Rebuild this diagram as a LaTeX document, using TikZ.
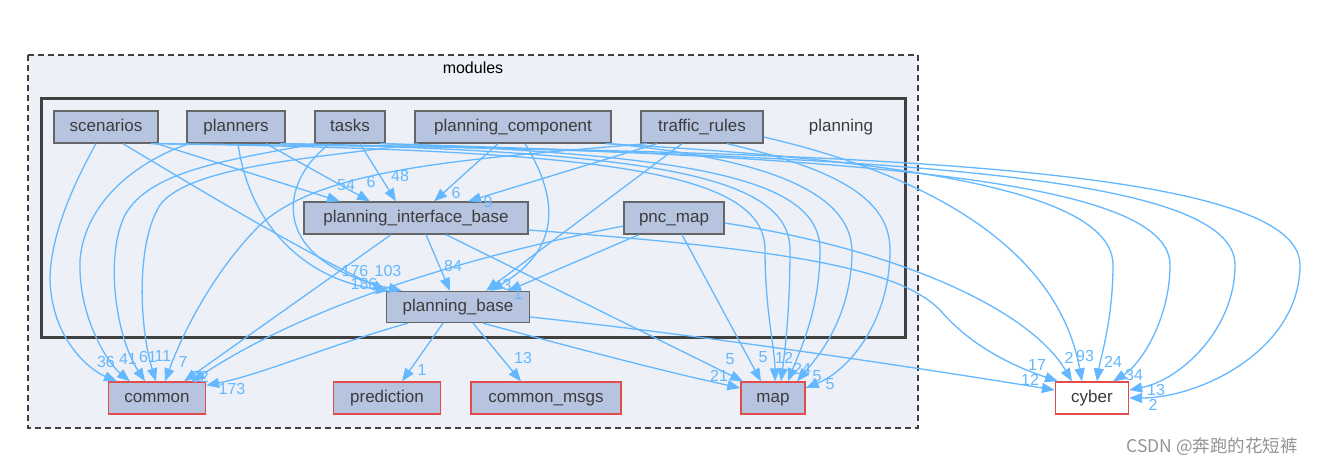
\documentclass[tikz,border=0pt]{standalone}
\usepackage{fontspec}
\setmainfont{Liberation Sans}
\newfontfamily\cjkfont{Noto Sans CJK SC}
\usetikzlibrary{arrows.meta,calc}
\definecolor{eblue}{HTML}{63B8FF}
\definecolor{nodefill}{HTML}{B7C4E0}
\definecolor{nodeborder}{HTML}{666666}
\definecolor{nodetext}{HTML}{3C3C3C}
\definecolor{clusterfill}{HTML}{EDF0F7}
\definecolor{clusterline}{HTML}{404040}
\definecolor{extred}{HTML}{E34C4C}
\begin{document}
\begin{tikzpicture}[x=1pt,y=-1pt,
  dirnode/.style={draw=nodeborder, fill=nodefill, line width=1.3pt, inner sep=0pt,
    minimum height=32pt, text height=12.5pt, text depth=3.5pt, text=nodetext, font=\fontsize{17}{20}\selectfont},
  extnode/.style={dirnode, draw=extred},
  dep/.style={draw=eblue, line width=1.3pt, -{Triangle[length=13pt,width=10pt]}},
  lab/.style={text=eblue, font=\fontsize{16}{18}\selectfont, inner sep=0pt}]
\useasboundingbox (0,0) rectangle (1323,467);
\fill[white] (0,0) rectangle (1323,467);
% clusters
\draw[clusterline, fill=clusterfill, line width=1.3pt, dash pattern=on 6pt off 4pt] (28,55) rectangle (918,428);
\node[font=\fontsize{16}{18}\selectfont, text=black] (modlabel) at (473,68) {modules};
\draw[clusterline, fill=clusterfill, line width=3pt] (41,98) rectangle (905,337);
\node[font=\fontsize{17}{20}\selectfont, text=nodetext, text height=12.5pt, text depth=3.5pt] (planlabel) at (841,127) {planning};
% nodes
\node[dirnode, minimum width=104pt] (scenarios) at (106,127) {scenarios};
\node[dirnode, minimum width=98pt] (planners) at (236,127) {planners};
\node[dirnode, minimum width=70pt] (tasks) at (350,127) {tasks};
\node[dirnode, minimum width=196pt] (planning_component) at (513,127) {planning\_component};
\node[dirnode, minimum width=122pt] (traffic_rules) at (702,127) {traffic\_rules};
\node[dirnode, minimum width=224pt] (planning_interface_base) at (416,218) {planning\_interface\_base};
\node[dirnode, minimum width=100pt] (pnc_map) at (674,218) {pnc\_map};
\node[dirnode, minimum width=143pt, minimum height=31pt] (planning_base) at (458,307) {planning\_base};
\node[extnode, minimum width=97pt] (common) at (157,398) {common};
\node[extnode, minimum width=107pt] (prediction) at (387,398) {prediction};
\node[extnode, minimum width=150pt] (common_msgs) at (546,398) {common\_msgs};
\node[extnode, minimum width=64pt] (map) at (773,398) {map};
\node[extnode, fill=white, minimum width=73pt] (cyber) at (1092,398) {cyber};
% ---- edges into common
\draw[dep] ([xshift=-10]scenarios.south) .. controls (70,190) and (50,240) .. (50,280) .. controls (52,340) and (90,370) .. ([xshift=-40]common.north);
\draw[dep] ([xshift=-47]planners.south) .. controls (140,160) and (85,200) .. (80,260) .. controls (78,320) and (110,365) .. ([xshift=-27]common.north);
\draw[dep] ([xshift=-35]tasks.south) .. controls (230,160) and (150,170) .. (125,215) .. controls (105,255) and (115,335) .. ([xshift=-12]common.north);
\draw[dep] ([xshift=-95]planning_component.south) .. controls (320,158) and (190,165) .. (160,205) .. controls (135,245) and (140,330) .. ([xshift=-1]common.north);
\draw[dep] ([xshift=-55]traffic_rules.south) .. controls (450,160) and (320,170) .. (260,225) .. controls (210,275) and (180,340) .. ([xshift=8]common.north);
\draw[dep] ([xshift=-25]planning_interface_base.south) -- ([xshift=27]common.north);
\draw[dep] ([yshift=-8]pnc_map.west) .. controls (450,260) and (300,310) .. ([xshift=35]common.north);
\draw[dep] ([xshift=-50]planning_base.south) .. controls (330,345) and (260,375) .. ([yshift=-4]common.north east);
% ---- edges into planning_interface_base
\draw[dep] ([xshift=-2]scenarios.south east) -- ([xshift=-76]planning_interface_base.north);
\draw[dep] ([xshift=30]planners.south) -- ([xshift=-46]planning_interface_base.north);
\draw[dep] ([xshift=10]tasks.south) -- ([xshift=-20]planning_interface_base.north);
\draw[dep] ([xshift=-15]planning_component.south) -- ([xshift=18]planning_interface_base.north);
\draw[dep] ([xshift=-45]traffic_rules.south) -- ([xshift=52]planning_interface_base.north);
% ---- edges into planning_base
\draw[dep] ([xshift=17]scenarios.south) .. controls (200,190) and (300,250) .. (planning_base.north west);
\draw[dep] ([xshift=2]planners.south) .. controls (250,230) and (310,280) .. ([xshift=3]planning_base.north west);
\draw[dep] ([xshift=-20]tasks.south) .. controls (280,180) and (265,260) .. ([xshift=16]planning_base.north west);
\draw[dep] ([xshift=10]planning_interface_base.south) -- ([xshift=-8]planning_base.north);
\draw[dep] ([xshift=12]planning_component.south) .. controls (560,200) and (560,250) .. ([xshift=32]planning_base.north);
\draw[dep] ([xshift=-20]traffic_rules.south) -- ([xshift=28]planning_base.north);
\draw[dep] ([xshift=-35]pnc_map.south) -- ([xshift=50]planning_base.north);
% ---- planning_base to prediction / common_msgs
\draw[dep] ([xshift=-15]planning_base.south) -- ([xshift=15]prediction.north);
\draw[dep] ([xshift=15]planning_base.south) -- ([xshift=-25]common_msgs.north);
% ---- edges into map
\draw[dep] ([xshift=30]planning_interface_base.south) -- ([xshift=-30]map.north);
\draw[dep] ([xshift=25]planning_base.south) .. controls (600,355) and (680,375) .. ([yshift=10]map.west);
\draw[dep] ([xshift=8]pnc_map.south) -- ([xshift=-12]map.north);
\draw[dep] ([xshift=-4]scenarios.south east) .. controls (600,150) and (765,170) .. (765,250) .. controls (765,310) and (775,350) .. ([xshift=2]map.north);
\draw[dep] ([xshift=-2]planners.south east) .. controls (650,152) and (790,175) .. (790,250) .. controls (790,310) and (785,350) .. ([xshift=8]map.north);
\draw[dep] ([xshift=-2]tasks.south east) .. controls (700,155) and (820,180) .. (820,250) .. controls (820,310) and (800,350) .. ([xshift=15]map.north);
\draw[dep] ([xshift=-2]planning_component.south east) .. controls (760,158) and (850,190) .. (852,250) .. controls (852,320) and (815,360) .. ([xshift=24]map.north);
\draw[dep] ([xshift=25]traffic_rules.south) .. controls (840,170) and (890,200) .. (890,250) .. controls (890,320) and (850,370) .. ([yshift=10]map.east);
% ---- edges into cyber
\draw[dep] ([yshift=-10]planning_base.east) .. controls (700,335) and (900,365) .. ([yshift=8]cyber.west);
\draw[dep] ([yshift=-12]planning_interface_base.east) .. controls (800,250) and (900,270) .. (940,310) .. controls (970,345) and (1010,365) .. ([xshift=-34]cyber.north);
\draw[dep] ([yshift=-5]pnc_map.east) .. controls (900,250) and (1030,310) .. ([xshift=-20]cyber.north);
\draw[dep] ([yshift=-10]traffic_rules.east) .. controls (950,180) and (1060,260) .. ([xshift=-10]cyber.north);
\draw[dep] ([xshift=-6]planning_component.south east) .. controls (900,160) and (1113,190) .. (1113,265) .. controls (1113,320) and (1100,360) .. ([xshift=5]cyber.north);
\draw[dep] ([xshift=-6]tasks.south east) .. controls (900,158) and (1170,185) .. (1170,265) .. controls (1170,320) and (1140,365) .. ([xshift=21]cyber.north);
\draw[dep] ([xshift=-6]planners.south east) .. controls (900,155) and (1235,175) .. (1235,265) .. controls (1235,330) and (1180,380) .. ([yshift=8]cyber.east);
\draw[dep] ([xshift=-8]scenarios.south east) .. controls (800,150) and (1300,160) .. (1300,265) .. controls (1300,350) and (1200,398) .. (cyber.east);
% ---- labels
\node[lab] (l1) at (106,362) {36};
\node[lab] (l2) at (128,359) {41};
\node[lab] (l3) at (148,357) {61};
\node[lab] (l4) at (163,356) {11};
\node[lab] (l5) at (183,362) {7};
\node[lab] (l6) at (200,377) {32};
\node[lab] (l8) at (232,389) {173};
\node[lab] (l9) at (346,185) {54};
\node[lab] (l10) at (371,182) {6};
\node[lab] (l11) at (400,176) {48};
\node[lab] (l12) at (456,193) {6};
\node[lab] (l13) at (488,202) {9};
\node[lab] (l14) at (355,271) {176};
\node[lab] (l15) at (364,284) {186};
\node[lab] (l16) at (388,271) {103};
\node[lab] (l17) at (453,266) {84};
\node[lab] (l18) at (507,285) {3};
\node[lab] (l19) at (518,294) {1};
\node[lab] (l20) at (422,370) {1};
\node[lab] (l21) at (523,358) {13};
\node[lab] (l22) at (730,359) {5};
\node[lab] (l23) at (719,376) {21};
\node[lab] (l24) at (763,357) {5};
\node[lab] (l25) at (784,358) {12};
\node[lab] (l27) at (802,369) {24};
\node[lab] (l28) at (817,376) {5};
\node[lab] (l29) at (830,384) {5};
\node[lab] (l30) at (1037,365) {17};
\node[lab] (l31) at (1030,380) {12};
\node[lab] (l32) at (1069,358) {2};
\node[lab] (l33) at (1085,356) {93};
\node[lab] (l34) at (1113,362) {24};
\node[lab] (l35) at (1134,375) {34};
\node[lab] (l36) at (1156,390) {13};
\node[lab] (l37) at (1153,405) {2};
% watermark
\node[text=black!42, font=\cjkfont\fontsize{17.5}{20}\selectfont, inner sep=0pt] (wm) at (1212,447) {CSDN @奔跑的花短裤};
\end{tikzpicture}
\end{document}
